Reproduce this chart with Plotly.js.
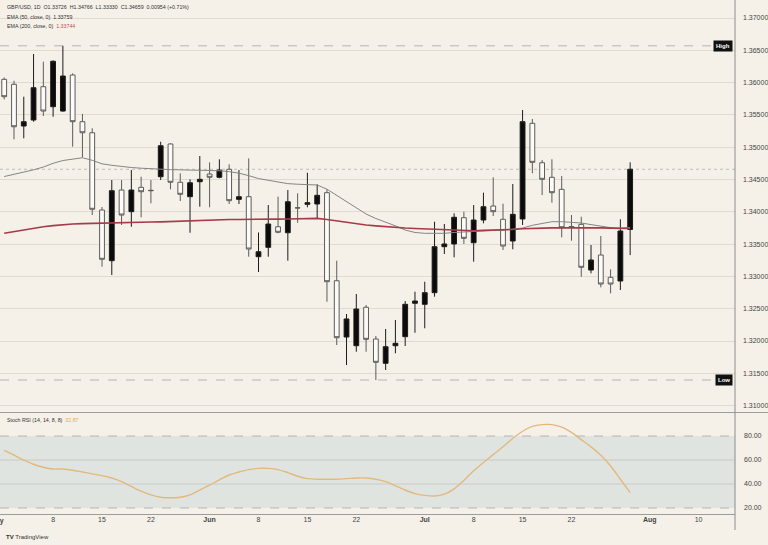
<!DOCTYPE html>
<html><head><meta charset="utf-8">
<script src="https://cdn.plot.ly/plotly-3.0.1.min.js"></script>
<style>html,body{margin:0;padding:0;background:#f5f1e8;}#chart{width:768px;height:545px;}</style>
</head><body><div id="chart"></div>
<script>
// ---- data ----
const open = [1.36051,1.35974,1.35328,1.35421,1.35937,1.35627,1.35560,1.36118,1.35395,1.35224,
1.34028,1.33243,1.34337,1.34002,1.34379,1.34333,1.34543,1.35050,1.34457,1.34234,
1.34466,1.34585,1.34534,1.34658,1.34193,1.34234,1.33305,1.33450,1.33769,1.33676,
1.34063,1.34116,1.34121,1.34296,1.32933,1.32062,1.31927,1.32522,1.32031,1.31655,
1.31927,1.32067,1.32584,1.32568,1.32748,1.33460,1.33502,1.33909,1.33522,1.33873,
1.34090,1.33884,1.33548,1.33889,1.35370,1.34760,1.34534,1.34348,1.33772,1.33806,
1.33099,1.33331,1.32986,1.32929,1.33726];
const high = [1.36080,1.36029,1.35782,1.36443,1.36324,1.36345,1.36570,1.36144,1.35514,1.35293,
1.34074,1.34492,1.34492,1.34647,1.34543,1.34492,1.35085,1.35060,1.34596,1.34503,
1.34864,1.34766,1.34813,1.34735,1.34647,1.34828,1.33680,1.34105,1.34234,1.34337,
1.34286,1.34605,1.34426,1.34348,1.33243,1.32418,1.32728,1.32557,1.32077,1.32186,
1.32325,1.32619,1.32763,1.32918,1.33847,1.33811,1.33977,1.34002,1.34105,1.34296,
1.34534,1.34125,1.34430,1.35576,1.35437,1.34802,1.34813,1.34554,1.33950,1.33924,
1.33486,1.33625,1.33110,1.33884,1.34766];
const low = [1.35740,1.35122,1.35138,1.35395,1.35483,1.35472,1.35550,1.35008,1.34841,1.33950,
1.33150,1.33022,1.33796,1.33769,1.33915,1.34132,1.34492,1.34348,1.34167,1.33676,
1.34079,1.34070,1.34519,1.34121,1.34121,1.33305,1.33068,1.33305,1.33667,1.33243,
1.33831,1.34070,1.33899,1.32608,1.31938,1.31628,1.31834,1.31834,1.31396,1.31551,
1.31810,1.31923,1.32128,1.32197,1.32686,1.33347,1.33296,1.33502,1.33228,1.33822,
1.33935,1.33409,1.33420,1.33796,1.34596,1.34260,1.34141,1.33605,1.33553,1.32995,
1.33048,1.32831,1.32738,1.32789,1.33330];
const close = [1.35782,1.35317,1.35395,1.35921,1.35560,1.36330,1.36102,1.35395,1.35224,1.34039,
1.33265,1.34327,1.33950,1.34337,1.34311,1.34328,1.35023,1.34457,1.34271,1.34450,
1.34503,1.34534,1.34647,1.34172,1.34234,1.33424,1.33382,1.33811,1.33683,1.34156,
1.34060,1.34141,1.34255,1.32918,1.32051,1.32341,1.32495,1.32026,1.31670,1.31912,
1.31964,1.32568,1.32619,1.32748,1.33460,1.33502,1.33915,1.33590,1.33873,1.34079,
1.34002,1.33471,1.33961,1.35395,1.34766,1.34503,1.34296,1.33754,1.33765,1.33141,
1.33254,1.32882,1.32882,1.33703,1.34659];
const ema50 = [1.34546,1.34577,1.34611,1.34650,1.34693,1.34751,1.34794,1.34820,1.34837,1.34797,
1.34743,1.34720,1.34701,1.34686,1.34675,1.34666,1.34656,1.34653,1.34650,1.34647,
1.34642,1.34639,1.34636,1.34622,1.34598,1.34560,1.34515,1.34488,1.34457,1.34436,
1.34427,1.34419,1.34415,1.34350,1.34252,1.34152,1.34067,1.33966,1.33896,1.33842,
1.33783,1.33718,1.33680,1.33667,1.33667,1.33667,1.33680,1.33690,1.33700,1.33706,
1.33711,1.33714,1.33729,1.33749,1.33791,1.33822,1.33847,1.33847,1.33842,1.33827,
1.33802,1.33777,1.33755,1.33740,1.33759];
const ema200 = [1.33667,1.33695,1.33721,1.33746,1.33768,1.33786,1.33802,1.33811,1.33817,1.33822,
1.33823,1.33827,1.33830,1.33833,1.33837,1.33842,1.33845,1.33851,1.33858,1.33862,
1.33868,1.33873,1.33879,1.33882,1.33882,1.33881,1.33881,1.33884,1.33887,1.33889,
1.33892,1.33895,1.33898,1.33881,1.33858,1.33831,1.33811,1.33796,1.33783,1.33769,
1.33760,1.33749,1.33741,1.33734,1.33724,1.33718,1.33714,1.33710,1.33707,1.33712,
1.33715,1.33718,1.33727,1.33737,1.33744,1.33748,1.33751,1.33752,1.33754,1.33754,
1.33754,1.33752,1.33748,1.33741,1.33744];
const stoch = [68,64,60,56.5,54,52.5,52.5,51.5,50,48.5,
47,45,42,38,34,31,29,28.5,29,31,
35,39,43.5,47.5,50,52,53,53,52,49.5,
46.5,44.5,44,44,44,44.5,45,45,44,42,
38.5,35,32,30.5,30,31.5,36,43,51,58,
64.5,71,78,84,88,89.5,89.5,87.5,83,77,
71,64,55,44,32.87];
const tickIdx  = [5,10,15,21,26,31,36,43,48,53,58,66,71];
const tickText = ['8','15','22','<b>Jun</b>','8','15','22','<b>Jul</b>','8','15','22','<b>Aug</b>','10'];
const stochTicks = [20,40,60,80];

// ---- chart ----
const idx = open.map((_, i) => i);
const W = 768, H = 545;
const px = x => x / W, py = y => 1 - y / H;
const BG = '#f5f1e8';
const XR = [-0.43, 74.72];
const XD = [0, 735 / W];
const last = close.length - 1;
const hi = Math.max(...high), lo = Math.min(...low);

const traces = [
  {type:'candlestick', x:idx, open, high, low, close, xaxis:'x', yaxis:'y',
   increasing:{line:{color:'#1c1c1c', width:1}, fillcolor:'#0b0b0b'},
   decreasing:{line:{color:'#5c5c5c', width:1}, fillcolor:'#fcfbf7'},
   whiskerwidth:0, hoverinfo:'skip', showlegend:false},
  {type:'scatter', mode:'lines', x:idx, y:ema50, xaxis:'x', yaxis:'y',
   line:{color:'#858585', width:1}, hoverinfo:'skip'},
  {type:'scatter', mode:'lines', x:idx, y:ema200, xaxis:'x', yaxis:'y',
   line:{color:'#a53a48', width:1.6}, hoverinfo:'skip'},
  {type:'scatter', mode:'lines', x:idx, y:stoch, xaxis:'x2', yaxis:'y2',
   line:{color:'#e2b97c', width:1.4, shape:'spline'}, hoverinfo:'skip'}
];

const shapes = [
  {type:'rect', xref:'x2 domain', x0:0, x1:1, yref:'y2', y0:20, y1:80, fillcolor:'#e0e4e1', line:{width:0}, layer:'below'},
  {type:'line', xref:'x2 domain', x0:0, x1:1, yref:'y2', y0:40, y1:40, line:{color:'#c8cbc8', width:1}, layer:'below'},
  {type:'line', xref:'x2 domain', x0:0, x1:1, yref:'y2', y0:60, y1:60, line:{color:'#c8cbc8', width:1}, layer:'below'},
  {type:'line', xref:'x2 domain', x0:0, x1:1, yref:'y2', y0:80, y1:80, line:{color:'#a8a8a8', width:0.8, dash:'dash'}, layer:'below'},
  {type:'line', xref:'x2 domain', x0:0, x1:1, yref:'y2', y0:20, y1:20, line:{color:'#a8a8a8', width:0.8, dash:'dash'}, layer:'below'},
  {type:'line', xref:'x domain', x0:0, x1:1, yref:'y', y0:hi, y1:hi, line:{color:'#a6a6a6', width:0.8, dash:'dash'}, layer:'below'},
  {type:'line', xref:'x domain', x0:0, x1:1, yref:'y', y0:lo, y1:lo, line:{color:'#a6a6a6', width:0.8, dash:'dash'}, layer:'below'},
  {type:'line', xref:'x domain', x0:0, x1:1, yref:'y', y0:close[last], y1:close[last], line:{color:'#b0b0b0', width:0.8, dash:'dot'}, layer:'below'},
  {type:'line', xref:'paper', x0:0, x1:1, yref:'paper', y0:py(412.5), y1:py(412.5), line:{color:'#9c9c9c', width:1}},
  {type:'line', xref:'paper', x0:0, x1:XD[1], yref:'paper', y0:py(514.5), y1:py(514.5), line:{color:'#9c9c9c', width:1}},
  {type:'line', xref:'paper', x0:XD[1], x1:XD[1], yref:'paper', y0:py(530), y1:1, line:{color:'#8c8c8c', width:1}}
];

const small = {family:'Liberation Sans Narrow, Liberation Sans, Arial, sans-serif', size:5.3, color:'#333'};
const fmt = v => v.toFixed(5);
const annotations = [
  {xref:'paper', yref:'paper', x:px(5), y:py(7), xanchor:'left', yanchor:'middle', showarrow:false, font:small,
   text:'GBP/USD, 1D  O' + fmt(open[last]) + '  H' + fmt(high[last]) + '  L' + fmt(low[last]) + '  C' + fmt(close[last]) + '  0.00954 (+0.71%)'},
  {xref:'paper', yref:'paper', x:px(5), y:py(17), xanchor:'left', yanchor:'middle', showarrow:false, font:small,
   text:'EMA (50, close, 0)  ' + fmt(ema50[last])},
  {xref:'paper', yref:'paper', x:px(5), y:py(26), xanchor:'left', yanchor:'middle', showarrow:false, font:small,
   text:'EMA (200, close, 0)  <span style="color:#c4505c">' + fmt(ema200[last]) + '</span>'},
  {xref:'paper', yref:'paper', x:px(5), y:py(420), xanchor:'left', yanchor:'middle', showarrow:false, font:small,
   text:'Stoch RSI (14, 14, 8, 8)  <span style="color:#e0aa62">' + stoch[last].toFixed(2) + '</span>'},
  {xref:'paper', yref:'y', x:px(733), y:hi, xanchor:'right', yanchor:'middle', showarrow:false,
   text:'<b>High</b>', font:{family:small.family, size:6, color:'#ffffff'}, bgcolor:'#111111', borderpad:2},
  {xref:'paper', yref:'y', x:px(733), y:lo, xanchor:'right', yanchor:'middle', showarrow:false,
   text:'<b>Low</b>', font:{family:small.family, size:6, color:'#ffffff'}, bgcolor:'#111111', borderpad:2},
  {xref:'paper', yref:'paper', x:px(-3), y:py(521), xanchor:'center', yanchor:'middle', showarrow:false,
   text:'<b>May</b>', font:{family:small.family, size:7, color:'#444'}},
  {xref:'paper', yref:'paper', x:px(4), y:py(537), xanchor:'left', yanchor:'middle', showarrow:false,
   text:'<b>TV</b> TradingView', font:{family:small.family, size:6, color:'#333'}}
];

const axFont = {family:'Liberation Sans Narrow, Liberation Sans, Arial, sans-serif', size:7, color:'#444'};
const layout = {
  width:W, height:H, margin:{l:0, r:0, t:0, b:0},
  paper_bgcolor:BG, plot_bgcolor:BG, showlegend:false, dragmode:false,
  font:axFont,
  xaxis:{domain:XD, range:XR, anchor:'y', showgrid:false, zeroline:false, showticklabels:false,
         ticks:'', showline:false, rangeslider:{visible:false}, fixedrange:true},
  yaxis:{domain:[py(412), 1], range:[1.30901, 1.37279], anchor:'x', side:'right',
         tick0:1.30, dtick:0.005, tickformat:'.5f', showgrid:true, gridcolor:'#e0dbd0', gridwidth:1,
         zeroline:false, showline:false, ticks:'', tickfont:axFont, ticklabelstandoff:7, fixedrange:true},
  xaxis2:{domain:XD, range:XR, anchor:'y2', tickvals:tickIdx, ticktext:tickText, showgrid:false,
          zeroline:false, showline:false, ticks:'', tickfont:axFont, fixedrange:true},
  yaxis2:{domain:[py(514), py(413)], range:[15, 99.2], anchor:'x2', side:'right',
          tickvals:stochTicks, ticktext:stochTicks.map(v => v.toFixed(2)), showgrid:false,
          zeroline:false, showline:false, ticks:'', tickfont:axFont, ticklabelstandoff:8, fixedrange:true},
  shapes, annotations
};

Plotly.newPlot('chart', traces, layout, {displayModeBar:false, staticPlot:true});
</script>
</body></html>
